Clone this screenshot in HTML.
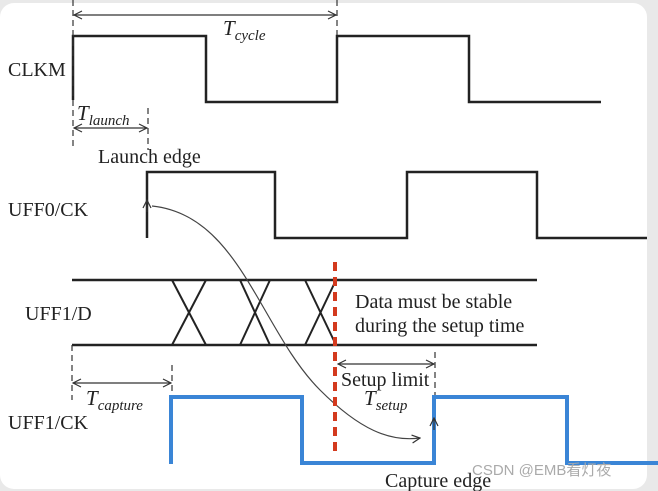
<!DOCTYPE html>
<html><head><style>
body{margin:0;width:658px;height:491px;overflow:hidden;background:#e9e9e9}
svg{display:block}
text{font-family:"Liberation Serif",serif;fill:#222}
text.w{font-family:"Liberation Sans","Noto Sans CJK SC",sans-serif;fill:#aaa}
</style></head><body>
<svg width="658" height="491" viewBox="0 0 658 491">
<defs>
<marker id="a" markerWidth="10" markerHeight="10" refX="9" refY="5" orient="auto" markerUnits="userSpaceOnUse"><path d="M1,1 L9,5 L1,9" fill="none" stroke="#333" stroke-width="1.2"/></marker>
<marker id="b" markerWidth="10" markerHeight="10" refX="1" refY="5" orient="auto" markerUnits="userSpaceOnUse"><path d="M9,1 L1,5 L9,9" fill="none" stroke="#333" stroke-width="1.2"/></marker>
</defs>
<rect x="0" y="3" width="647" height="486" rx="14" fill="#fff"/>
<g fill="none" stroke="#222" stroke-width="2.5">
<polyline points="73,100 73,36 206,36 206,102 337,102 337,36 469,36 469,102 601,102"/>
<polyline points="147,238 147,172 275,172 275,238 407,238 407,172 537,172 537,238 647,238"/>
<line x1="72" y1="280" x2="537" y2="280"/>
<line x1="72" y1="345" x2="537" y2="345"/>
</g>
<g stroke="#222" stroke-width="2">
<line x1="172" y1="280" x2="206" y2="345"/><line x1="172" y1="345" x2="206" y2="280"/>
<line x1="240" y1="280" x2="270" y2="345"/><line x1="240" y1="345" x2="270" y2="280"/>
<line x1="305" y1="280" x2="336" y2="345"/><line x1="305" y1="345" x2="336" y2="280"/>
</g>
<polyline points="171,464 171,397 302,397 302,463 434,463 434,397 567,397 567,463 658,463" fill="none" stroke="#3a85d6" stroke-width="4"/>
<g stroke="#333" stroke-width="1.2" stroke-dasharray="6,4" fill="none">
<line x1="73" y1="0" x2="73" y2="150"/>
<line x1="337" y1="0" x2="337" y2="35"/>
<line x1="148" y1="108" x2="148" y2="150"/>
<line x1="72" y1="345" x2="72" y2="400"/>
<line x1="172" y1="365" x2="172" y2="395"/>
<line x1="435" y1="352" x2="435" y2="395"/>
</g>
<g stroke="#333" stroke-width="1.2">
<line x1="74" y1="15" x2="336" y2="15" marker-start="url(#b)" marker-end="url(#a)"/>
<line x1="74" y1="128" x2="147" y2="128" marker-start="url(#b)" marker-end="url(#a)"/>
<line x1="73" y1="383" x2="171" y2="383" marker-start="url(#b)" marker-end="url(#a)"/>
<line x1="338" y1="364" x2="434" y2="364" marker-start="url(#b)" marker-end="url(#a)"/>
<line x1="147" y1="212" x2="147" y2="200" marker-end="url(#a)"/>
<line x1="434" y1="430" x2="434" y2="418" marker-end="url(#a)"/>
</g>
<path d="M152,206 C240,215 260,330 320,390 C360,430 390,442 420,438" fill="none" stroke="#444" stroke-width="1.2" marker-end="url(#a)"/>
<line x1="335" y1="262" x2="335" y2="455" stroke="#d33a1e" stroke-width="4" stroke-dasharray="9,6"/>
<g font-size="20">
<text x="8" y="76">CLKM</text>
<text x="8" y="216">UFF0/CK</text>
<text x="25" y="320">UFF1/D</text>
<text x="8" y="429">UFF1/CK</text>
<text x="98" y="163">Launch edge</text>
<text x="355" y="308">Data must be stable</text>
<text x="355" y="332">during the setup time</text>
<text x="341" y="386">Setup limit</text>
<text x="385" y="487">Capture edge</text>
</g>
<g font-size="21" font-style="italic">
<text x="223" y="35">T<tspan font-size="15" dy="5">cycle</tspan></text>
<text x="77" y="120">T<tspan font-size="15" dy="5">launch</tspan></text>
<text x="86" y="405">T<tspan font-size="15" dy="5">capture</tspan></text>
<text x="364" y="405">T<tspan font-size="15" dy="5">setup</tspan></text>
</g>
<text class="w" x="472" y="475" font-size="15">CSDN @EMB看灯夜</text>
</svg>
</body></html>
